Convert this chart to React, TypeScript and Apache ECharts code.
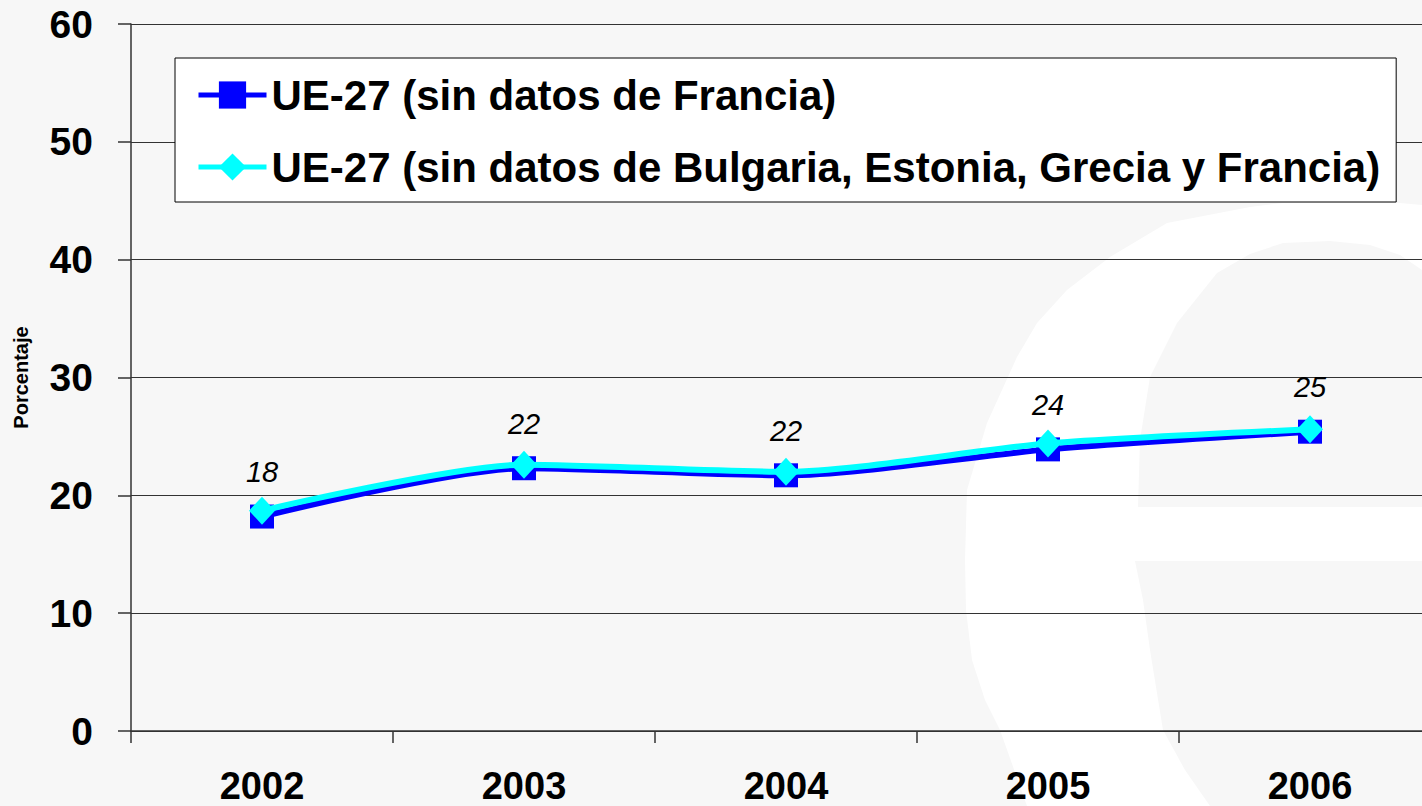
import React, { useEffect, useRef } from "react";
import * as echarts from "echarts";

const years = ["2002", "2003", "2004", "2005", "2006"];
const seriesNames = [
  "UE-27 (sin datos de Francia)",
  "UE-27 (sin datos de Bulgaria, Estonia, Grecia y Francia)",
];
const sinFrancia = [18.2, 22.3, 21.7, 23.9, 25.4];
const sinBEGF = [18.7, 22.6, 22.0, 24.4, 25.6];
const yMin = 0;
const yMax = 60;
const yInterval = 10;
const yAxisName = "Porcentaje";

const FONT = "'Liberation Sans', Arial, sans-serif";
const BG = "#f7f7f7";

// faint background watermark (decorative)
const wmOuter = [
  [1422, 205], [1400, 203], [1283, 203], [1250, 207], [1167, 223], [1110, 257],
  [1067, 290], [1037, 323], [1017, 357], [987, 423], [967, 490], [965, 560],
  [966, 610], [972, 660], [985, 700], [1000, 730], [1027, 806], [1422, 806],
];
const wmInnerTop = [
  [1422, 270], [1400, 255], [1370, 245], [1330, 241], [1283, 243], [1250, 254],
  [1217, 273], [1177, 323], [1150, 377], [1140, 440], [1138, 507], [1422, 507],
];
const wmInnerBottom = [
  [1135, 561], [1143, 600], [1150, 650], [1163, 730], [1185, 770], [1210, 806],
  [1422, 806], [1422, 561],
];

export default function App() {
  const ref = useRef<HTMLDivElement>(null);
  useEffect(() => {
    if (!ref.current) return;
    const chart = echarts.init(ref.current, null, { renderer: "svg" });
    chart.setOption({
      animation: false,
      backgroundColor: BG,
      graphic: [
        { type: "polygon", z: -10, silent: true, shape: { points: wmOuter }, style: { fill: "#ffffff" } },
        { type: "polygon", z: -9, silent: true, shape: { points: wmInnerTop }, style: { fill: BG } },
        { type: "polygon", z: -9, silent: true, shape: { points: wmInnerBottom }, style: { fill: BG } },
      ],
      grid: { left: 131, top: 24, width: 1310, height: 707, containLabel: false, outerBoundsMode: "none" },
      legend: {
        orient: "vertical",
        left: 175,
        top: 58,
        backgroundColor: "#ffffff",
        borderColor: "#000000",
        borderWidth: 1,
        padding: [16, 16, 14, 21],
        itemWidth: 68,
        itemHeight: 34,
        itemGap: 30,
        lineStyle: { width: 5 },
        textStyle: { fontFamily: FONT, fontWeight: "bold", fontSize: 42, color: "#000" },
        data: seriesNames,
      },
      xAxis: {
        type: "category",
        data: years,
        boundaryGap: true,
        axisLine: { lineStyle: { color: "#333", width: 1.5 } },
        axisTick: { show: true, length: 12, interval: 0, lineStyle: { color: "#333", width: 1.5 } },
        axisLabel: { margin: 36, fontFamily: FONT, fontWeight: "bold", fontSize: 38, color: "#000" },
      },
      yAxis: {
        type: "value",
        min: yMin,
        max: yMax,
        interval: yInterval,
        name: yAxisName,
        nameLocation: "middle",
        nameGap: 100,
        nameTextStyle: { fontFamily: FONT, fontWeight: "bold", fontSize: 20, color: "#000" },
        axisLine: { show: true, lineStyle: { color: "#333", width: 1.5 } },
        axisTick: { show: true, length: 13, lineStyle: { color: "#333", width: 1.5 } },
        axisLabel: { margin: 38, fontFamily: FONT, fontWeight: "bold", fontSize: 39, color: "#000" },
        splitLine: { show: true, lineStyle: { color: "#333", width: 1 } },
      },
      series: [
        {
          name: seriesNames[0],
          type: "line",
          data: sinFrancia,
          smooth: 0.25,
          symbol: "rect",
          symbolSize: 24,
          lineStyle: { color: "#0000ff", width: 6 },
          itemStyle: { color: "#0000ff" },
          label: {
            show: true,
            position: "top",
            distance: 18,
            formatter: (p: any) => String(Math.round(p.value)),
            fontFamily: FONT,
            fontStyle: "italic",
            fontSize: 29,
            color: "#000",
          },
          z: 3,
        },
        {
          name: seriesNames[1],
          type: "line",
          data: sinBEGF,
          smooth: 0.25,
          symbol: "diamond",
          symbolSize: [26, 28],
          lineStyle: { color: "#00ffff", width: 6 },
          itemStyle: { color: "#00ffff" },
          z: 4,
        },
      ],
    });
    return () => chart.dispose();
  }, []);
  return (
    <div
      ref={ref}
      style={{ position: "fixed", left: 0, top: 0, width: 1422, height: 806, background: BG }}
    />
  );
}
